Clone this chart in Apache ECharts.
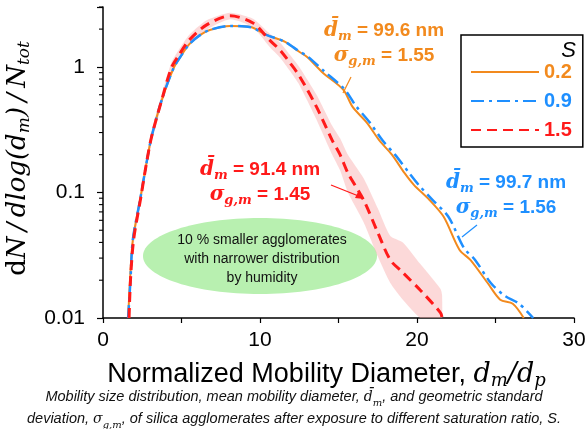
<!DOCTYPE html>
<html>
<head>
<meta charset="utf-8">
<script src="https://cdn.jsdelivr.net/npm/echarts@6/dist/echarts.min.js"></script>
<style>
html, body { margin: 0; padding: 0; background: #fff; }
#chart { width: 588px; height: 429px; }
</style>
</head>
<body>
<div id="chart"></div>
<script>
// S = 0.2
const orangeX = [1.6, 1.72, 1.9, 2.36, 2.8, 3.1, 3.75, 4.5, 5.0, 5.5, 6.2, 6.8, 8.1, 9.4, 10.4, 11.6, 12.5, 13.0, 14.0, 15.3, 15.9, 16.8, 17.6, 18.4, 19.2, 19.8, 20.8, 21.7, 22.7, 23.4, 24.5, 25.3, 26.1, 26.8];
const orangeY = [0.01, 0.02, 0.042, 0.087, 0.18, 0.28, 0.546, 0.98, 1.24, 1.52, 1.8, 1.97, 2.12, 2.08, 1.8, 1.58, 1.32, 1.2, 0.9, 0.66, 0.48, 0.36, 0.26, 0.2, 0.143, 0.115, 0.087, 0.064, 0.035, 0.029, 0.019, 0.014, 0.013, 0.01];
// S = 0.9
const blueX = [1.6, 1.75, 1.9, 2.36, 2.8, 3.1, 3.75, 4.5, 5.0, 5.5, 6.2, 6.8, 8.1, 9.4, 10.4, 11.6, 12.5, 13.0, 14.1, 15.4, 16.1, 17.0, 17.8, 18.6, 19.5, 20.1, 21.0, 22.0, 23.0, 23.7, 24.7, 25.6, 26.5, 27.4];
const blueY = [0.01, 0.02, 0.042, 0.087, 0.18, 0.28, 0.55, 0.98, 1.24, 1.52, 1.8, 1.97, 2.12, 2.07, 1.8, 1.58, 1.33, 1.22, 0.92, 0.66, 0.49, 0.36, 0.26, 0.2, 0.143, 0.115, 0.087, 0.064, 0.036, 0.029, 0.019, 0.015, 0.013, 0.01];
// S = 1.5 with its shaded band
const redX = [1.66, 1.75, 1.95, 2.4, 2.8, 3.1, 3.75, 4.35, 4.8, 5.5, 6.6, 8.1, 9.55, 10.6, 11.3, 11.9, 12.5, 13.6, 14.6, 15.1, 15.6, 16.6, 17.5, 18.3, 19.1, 20.2, 21.5, 21.6];
const redY = [0.01, 0.02, 0.042, 0.09, 0.18, 0.28, 0.55, 0.98, 1.22, 1.64, 2.16, 2.55, 2.24, 1.64, 1.35, 1.08, 0.85, 0.48, 0.26, 0.20, 0.143, 0.087, 0.048, 0.029, 0.023, 0.0167, 0.011, 0.01];
const redHigh = [0.011, 0.022, 0.047, 0.10, 0.20, 0.31, 0.61, 1.08, 1.35, 1.80, 2.35, 2.70, 2.42, 1.85, 1.55, 1.25, 1.0, 0.60, 0.34, 0.27, 0.20, 0.13, 0.075, 0.045, 0.04, 0.027, 0.017, 0.015];
const redLow = [0.009, 0.018, 0.038, 0.081, 0.16, 0.25, 0.50, 0.89, 1.11, 1.50, 1.98, 2.40, 2.07, 1.45, 1.18, 0.93, 0.72, 0.38, 0.20, 0.15, 0.10, 0.058, 0.031, 0.019, 0.014, 0.010, 0.008, 0.007];

const seriesNames = ['0.2', '0.9', '1.5'];
const yTicks = [0.01, 0.1, 1];
const yTickLabels = ['0.01', '0.1', '1'];
const yMinorTicks = [0.02, 0.03, 0.04, 0.05, 0.06, 0.07, 0.08, 0.09, 0.2, 0.3, 0.4, 0.5, 0.6, 0.7, 0.8, 0.9, 2, 3];
const xLabelTicks = [0, 10, 20, 30];

const ORANGE = '#F28A1E';
const BLUE = '#1E8FFF';
const RED = '#FF1A1A';

const pairs = (xs, ys) => xs.map((x, i) => [x, ys[i]]);

// rich styles for graphic texts (zrender uses fill)
function mathRich(color, size) {
    return {
        b: { fontFamily: 'Liberation Sans', fontWeight: 'bold', fontSize: size, fill: color, lineHeight: 25 },
        mi: { fontFamily: 'DejaVu Serif', fontStyle: 'italic', fontWeight: 'bold', fontSize: size + 1, fill: color, lineHeight: 25 },
        sub: { fontFamily: 'DejaVu Serif', fontStyle: 'italic', fontWeight: 'bold', fontSize: size - 6, fill: color, lineHeight: 12, verticalAlign: 'bottom' }
    };
}
const dmText = (v) => '{mi|d\u0304}{sub|m}{b| = ' + v + ' nm}';
const sgText = (v) => '{mi|\u03c3}{sub|g,m}{b| = ' + v + '}';

const chart = echarts.init(document.getElementById('chart'));

const option = {
    animation: false,
    grid: { left: 103, right: 14, top: 7, bottom: 111, outerBoundsMode: 'none' },
    legend: {
        orient: 'vertical',
        left: 461,
        top: 35,
        padding: [27, 11, 7, 9],
        borderColor: '#000',
        borderWidth: 1.5,
        itemWidth: 68,
        itemHeight: 14,
        itemGap: 9,
        itemStyle: { opacity: 0 },
        textStyle: { fontFamily: 'Liberation Sans', fontWeight: 'bold', fontSize: 20, lineHeight: 20 },
        data: [
            { name: seriesNames[0], textStyle: { color: ORANGE } },
            { name: seriesNames[1], textStyle: { color: BLUE } },
            { name: seriesNames[2], textStyle: { color: RED } }
        ]
    },
    xAxis: {
        type: 'value',
        min: 0,
        max: 30,
        interval: 5,
        splitLine: { show: false },
        axisLine: { lineStyle: { color: '#000', width: 1.5 } },
        axisTick: { inside: false, length: 5, lineStyle: { color: '#000', width: 1.2 } },
        axisLabel: {
            margin: 12,
            fontFamily: 'Liberation Sans',
            fontSize: 21,
            color: '#000',
            formatter: (v) => xLabelTicks.includes(v) ? String(v) : ''
        },
        name: '{t|Normalized Mobility Diameter, }{m|d}{s|m}{m|/d}{s|p}',
        nameLocation: 'middle',
        nameGap: 42,
        nameMoveOverlap: false,
        nameTextStyle: {
            padding: [0, 24, 0, 0],
            rich: {
                t: { fontFamily: 'Liberation Sans', fontSize: 27, color: '#000', lineHeight: 30 },
                m: { fontFamily: 'DejaVu Serif', fontStyle: 'italic', fontSize: 27, color: '#000', lineHeight: 30 },
                s: { fontFamily: 'DejaVu Serif', fontStyle: 'italic', fontSize: 18, color: '#000', lineHeight: 18, verticalAlign: 'bottom' }
            }
        }
    },
    yAxis: {
        type: 'log',
        min: 0.01,
        max: 3,
        logBase: 10,
        splitLine: { show: false },
        axisLine: { show: true, lineStyle: { color: '#000', width: 1.5 } },
        axisTick: { show: true, inside: false, length: 6, lineStyle: { color: '#000', width: 1.2 } },
        axisLabel: {
            margin: 18,
            fontFamily: 'Liberation Sans',
            fontSize: 21,
            color: '#000',
            formatter: (v) => {
                const i = yTicks.findIndex((t) => Math.abs(t - v) / t < 1e-6);
                return i >= 0 ? yTickLabels[i] : '';
            }
        },
        name: '{u|d}{m|N\u2009/\u2009dlog(d}{s|m}{m|)\u2009/\u2009N}{s|tot}',
        nameLocation: 'middle',
        nameRotate: 90,
        nameGap: 70,
        nameMoveOverlap: false,
        nameTextStyle: {
            padding: [0, 0, 0, 8],
            rich: {
                u: { fontFamily: 'DejaVu Serif', fontSize: 26, color: '#000', lineHeight: 30 },
                m: { fontFamily: 'DejaVu Serif', fontStyle: 'italic', fontSize: 26, color: '#000', lineHeight: 30 },
                s: { fontFamily: 'DejaVu Serif', fontStyle: 'italic', fontSize: 17, color: '#000', lineHeight: 17, verticalAlign: 'bottom' }
            }
        }
    },
    graphic: [
        {
            type: 'ellipse',
            shape: { cx: 260, cy: 256, rx: 117, ry: 38 },
            style: { fill: '#B8F0B0' },
            z: 0
        },
        {
            type: 'text',
            x: 262, y: 231,
            style: {
                text: '10 % smaller agglomerates\nwith narrower distribution\nby humidity',
                textAlign: 'center',
                fontFamily: 'Liberation Sans',
                fontSize: 14,
                lineHeight: 19,
                fill: '#111'
            },
            z: 5
        },
        {
            type: 'text',
            x: 384, y: 18,
            style: { text: dmText('99.6') + '\n' + sgText('1.55'), textAlign: 'center', rich: mathRich(ORANGE, 19) },
            z: 5
        },
        {
            type: 'line',
            shape: { x1: 351, y1: 77, x2: 343, y2: 93 },
            style: { stroke: ORANGE, lineWidth: 1.2 },
            z: 5
        },
        {
            type: 'text',
            x: 260, y: 157,
            style: { text: dmText('91.4') + '\n' + sgText('1.45'), textAlign: 'center', rich: mathRich(RED, 19) },
            z: 5
        },
        {
            type: 'line',
            shape: { x1: 331, y1: 185, x2: 361, y2: 197 },
            style: { stroke: RED, lineWidth: 1.2 },
            z: 5
        },
        {
            type: 'polygon',
            shape: { points: [[364, 199], [355, 198], [358, 192]] },
            style: { fill: RED },
            z: 5
        },
        {
            type: 'text',
            x: 506, y: 170,
            style: { text: dmText('99.7') + '\n' + sgText('1.56'), textAlign: 'center', rich: mathRich(BLUE, 19) },
            z: 5
        },
        {
            type: 'line',
            shape: { x1: 477, y1: 225, x2: 462, y2: 237 },
            style: { stroke: BLUE, lineWidth: 1.2 },
            z: 5
        },
        {
            type: 'text',
            x: 576, y: 40,
            style: { text: 'S', textAlign: 'right', fontFamily: 'Liberation Sans', fontStyle: 'italic', fontSize: 22, fill: '#000' },
            z: 5
        },
        {
            type: 'text',
            x: 294, y: 386,
            style: {
                text: '{t|Mobility size distribution, mean mobility diameter, }{m|d\u0304}{s|m}{t|, and geometric standard}\n' +
                      '{t|deviation, }{m|\u03c3}{s|g,m}{t|, of silica agglomerates after exposure to different saturation ratio, S.}',
                textAlign: 'center',
                rich: {
                    t: { fontFamily: 'Liberation Sans', fontStyle: 'italic', fontSize: 14.5, fill: '#111', lineHeight: 22 },
                    m: { fontFamily: 'DejaVu Serif', fontStyle: 'italic', fontSize: 14, fill: '#111', lineHeight: 22 },
                    s: { fontFamily: 'DejaVu Serif', fontStyle: 'italic', fontSize: 10, fill: '#111', lineHeight: 15, verticalAlign: 'bottom' }
                }
            },
            z: 5
        }
    ],
    series: [
        {
            type: 'custom',
            name: 'band',
            silent: true,
            clip: true,
            z: 1,
            data: [[redX[0], redY[0]]],
            renderItem: (params, api) => {
                const pts = [];
                for (let i = 0; i < redX.length; i++) pts.push(api.coord([redX[i], redHigh[i]]));
                for (let i = redX.length - 1; i >= 0; i--) pts.push(api.coord([redX[i], redLow[i]]));
                return { type: 'polygon', shape: { points: pts, smooth: 0.2 }, style: { fill: 'rgba(248,170,170,0.45)' } };
            }
        },
        {
            type: 'custom',
            name: 'minor',
            silent: true,
            clip: false,
            data: yMinorTicks.map((v) => [0, v]),
            renderItem: (params, api) => {
                const p = api.coord([api.value(0), api.value(1)]);
                return { type: 'line', shape: { x1: p[0] - 4, y1: p[1], x2: p[0], y2: p[1] }, style: { stroke: '#000', lineWidth: 1.1 } };
            }
        },
        {
            type: 'line',
            name: seriesNames[0],
            data: pairs(orangeX, orangeY),
            symbol: 'none',
            smooth: 0.3,
            z: 3,
            color: ORANGE,
            lineStyle: { color: ORANGE, width: 2 }
        },
        {
            type: 'line',
            name: seriesNames[1],
            data: pairs(blueX, blueY),
            symbol: 'none',
            smooth: 0.3,
            z: 4,
            color: BLUE,
            lineStyle: { color: BLUE, width: 2.5, type: [13, 5, 3, 5] }
        },
        {
            type: 'line',
            name: seriesNames[2],
            data: pairs(redX, redY),
            symbol: 'none',
            smooth: 0.3,
            z: 5,
            color: RED,
            lineStyle: { color: RED, width: 3, type: [10, 6] }
        }
    ]
};

chart.setOption(option);
</script>
</body>
</html>
